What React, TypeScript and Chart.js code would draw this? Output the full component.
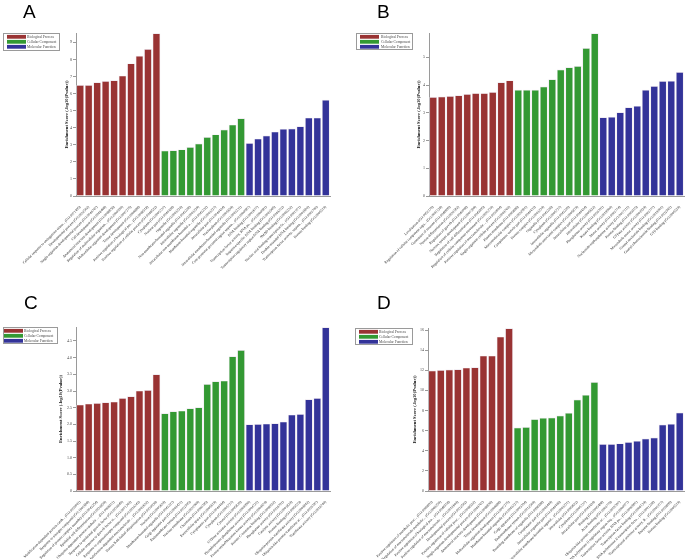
import React, { useEffect, useRef } from "react";
import { Chart, registerables } from "chart.js";

Chart.register(...registerables);

const CATEGORY_NAMES = ["Biological Process", "Cellular Component", "Molecular Function"];
const CATEGORY_COLORS = ["#993333", "#339933", "#333399"];
const Y_TITLE = "Enrichment Score (-log10(Pvalue))";

// ---------- Panel A ----------
const aBPTerms = [
  "Cellular response to endogenous stimu... (GO:0071495)",
  "Developmental process (GO:0032502)",
  "Single-organism developmental process (GO:0044767)",
  "Cell development (GO:0048468)",
  "Anatomical structure development (GO:0048856)",
  "Regulation of multicellular organism... (GO:2000026)",
  "Multicellular organism development (GO:0007275)",
  "Tissue development (GO:0009888)",
  "Positive regulation of biological pro... (GO:0048518)",
  "Positive regulation of cellular process (GO:0048522)",
];
const aBPScores = [6.5, 6.5, 6.66, 6.74, 6.78, 7.05, 7.77, 8.22, 8.61, 9.53];
const aCCTerms = [
  "Cytoplasm (GO:0005737)",
  "Nuclear part (GO:0044428)",
  "Organelle (GO:0043226)",
  "Non-membrane-bounded organelle (GO:0043228)",
  "Intracellular organelle (GO:0043229)",
  "Intracellular non-membrane-bounded o... (GO:0043232)",
  "Membrane-bounded organelle (GO:0043227)",
  "Intracellular part (GO:0044424)",
  "Nucleoplasm (GO:0005654)",
  "Intracellular membrane-bounded organelle (GO:0043231)",
];
const aCCScores = [2.66, 2.68, 2.73, 2.87, 3.07, 3.46, 3.61, 3.89, 4.18, 4.55];
const aMFTerms = [
  "Core promoter proximal region sequen... (GO:0000987)",
  "DNA binding (GO:0003677)",
  "Transcription factor activity, RNA po... (GO:0000981)",
  "Sequence-specific DNA binding (GO:0043565)",
  "Transcription regulatory region DNA binding (GO:0044212)",
  "SMAD binding (GO:0046332)",
  "Nucleic acid binding transcription fa... (GO:0001071)",
  "Double-stranded DNA binding (GO:0003690)",
  "Transcription factor activity, sequen... (GO:0003700)",
  "Protein binding (GO:0005515)",
];
const aMFScores = [3.1, 3.36, 3.54, 3.77, 3.93, 3.95, 4.08, 4.59, 4.59, 5.64];

// ---------- Panel B ----------
const bBPTerms = [
  "Localization (GO:0051179)",
  "Regulation of cellular component orga... (GO:0051128)",
  "Generation of neurons (GO:0048699)",
  "Neuron differentiation (GO:0030182)",
  "Regulation of growth (GO:0040008)",
  "Nervous system development (GO:0007399)",
  "Regulation of cell differentiation (GO:0045595)",
  "Regulation of cellular component movement (GO:0051270)",
  "Positive regulation of macromolecule ... (GO:0010604)",
  "Single-organism cellular process (GO:0044763)",
];
const bBPScores = [3.57, 3.59, 3.61, 3.63, 3.68, 3.71, 3.71, 3.75, 4.1, 4.17];
const bCCTerms = [
  "Plasma membrane (GO:0005886)",
  "Macromolecular complex (GO:0032991)",
  "Cytoplasmic vesicle part (GO:0044433)",
  "Protein complex (GO:0043234)",
  "Organelle (GO:0043226)",
  "Cytoplasm (GO:0005737)",
  "Intracellular organelle (GO:0043229)",
  "Microtubule associated complex (GO:0005875)",
  "Intracellular part (GO:0044424)",
  "Intracellular (GO:0005622)",
];
const bCCScores = [3.83, 3.83, 3.83, 3.95, 4.21, 4.56, 4.64, 4.69, 5.34, 5.87];
const bMFTerms = [
  "Phosphatase activity (GO:0016791)",
  "Kinase binding (GO:0019900)",
  "Motor activity (GO:0003774)",
  "Nucleoside-triphosphatase activity (GO:0017111)",
  "Protein binding (GO:0005515)",
  "GTPase activity (GO:0003924)",
  "Microtubule motor activity (GO:0003777)",
  "Guanyl nucleotide binding (GO:0019001)",
  "Guanyl ribonucleotide binding (GO:0032561)",
  "GTP binding (GO:0005525)",
];
const bMFScores = [2.84, 2.86, 3.02, 3.2, 3.25, 3.83, 3.97, 4.15, 4.16, 4.47];

// ---------- Panel C ----------
const cBPTerms = [
  "Modification-dependent protein catab... (GO:0019941)",
  "Response to nitrogen compound (GO:1901698)",
  "Regulation of protein complex assembly (GO:0043254)",
  "Epithelial cell differentiation (GO:0030855)",
  "Ubiquitin-dependent protein catabolic ... (GO:0006511)",
  "Response to epidermal growth factor (GO:0070849)",
  "Cellular response to growth factor st... (GO:0071363)",
  "Response to organonitrogen compound (GO:0010243)",
  "Modification-dependent macromolecule ... (GO:0043632)",
  "Protein K48-linked ubiquitination (GO:0070936)",
];
const cBPScores = [2.59, 2.62, 2.64, 2.66, 2.68, 2.79, 2.84, 3.01, 3.03, 3.5];
const cCCTerms = [
  "Nucleus (GO:0005634)",
  "Membrane-bounded organelle (GO:0043227)",
  "Golgi apparatus part (GO:0044431)",
  "Endomembrane system (GO:0012505)",
  "Nuclear membrane (GO:0031965)",
  "Chromatin (GO:0000785)",
  "Extracellular space (GO:0005615)",
  "Cytoplasmic part (GO:0044444)",
  "Cytoplasm (GO:0005737)",
  "Cytosol (GO:0005829)",
];
const cCCScores = [2.33, 2.39, 2.41, 2.48, 2.51, 3.21, 3.29, 3.31, 4.04, 4.23];
const cMFTerms = [
  "GTPase activator activity (GO:0005096)",
  "Phosphoprotein phosphatase activity (GO:0004721)",
  "Protein serine/threonine kinase activity (GO:0004674)",
  "Protein C-terminus binding (GO:0008022)",
  "Phosphatase activity (GO:0016791)",
  "Catalytic activity (GO:0003824)",
  "Protein binding (GO:0005515)",
  "Ubiquitin-protein transferase activity (GO:0004842)",
  "Ubiquitin-like protein transferase ac... (GO:0019787)",
  "Transferase activity (GO:0016740)",
];
const cMFScores = [2.0, 2.01, 2.02, 2.03, 2.08, 2.29, 2.31, 2.75, 2.79, 4.91];

// ---------- Panel D ----------
const dBPTerms = [
  "Positive regulation of metabolic proc... (GO:0009893)",
  "Regulation of macromolecule metabolic... (GO:0060255)",
  "Positive regulation of biological pro... (GO:0048518)",
  "Positive regulation of macromolecule ... (GO:0010604)",
  "Developmental process (GO:0032502)",
  "Positive regulation of cellular proc... (GO:0048522)",
  "Single-organism developmental process (GO:0044767)",
  "Anatomical structure development (GO:0048856)",
  "Tissue development (GO:0009888)",
  "Multicellular organism development (GO:0007275)",
];
const dBPScores = [11.97, 12.03, 12.07, 12.1, 12.26, 12.3, 13.45, 13.45, 15.34, 16.17];
const dCCTerms = [
  "Membrane-bounded organelle (GO:0043227)",
  "Golgi apparatus (GO:0005794)",
  "Endomembrane system (GO:0012505)",
  "Bounding membrane of organelle (GO:0098588)",
  "Cytoplasmic part (GO:0044444)",
  "Intracellular organelle part (GO:0044446)",
  "Intracellular membrane-bounded organel... (GO:0043231)",
  "Intracellular (GO:0005622)",
  "Cytoplasm (GO:0005737)",
  "Intracellular part (GO:0044424)",
];
const dCCScores = [6.31, 6.35, 7.14, 7.27, 7.31, 7.5, 7.77, 9.09, 9.55, 10.84];
const dMFTerms = [
  "Binding (GO:0005488)",
  "Actin binding (GO:0003779)",
  "Ubiquitin-like protein transferase ac... (GO:0019787)",
  "RNA polymerase II regulatory region seq... (GO:0000977)",
  "Transcription factor activity, RNA po... (GO:0000981)",
  "Transcription factor binding (GO:0008134)",
  "RNA polymerase II transcription facto... (GO:0001228)",
  "Transcriptional activator activity, R... (GO:0001077)",
  "Enzyme binding (GO:0019899)",
  "Protein binding (GO:0005515)",
];
const dMFScores = [4.66, 4.66, 4.73, 4.86, 4.99, 5.22, 5.32, 6.61, 6.68, 7.8];

const SERIF = "'Liberation Serif', 'DejaVu Serif', serif";

const goLegendPlugin = {
  id: "goLegend",
  afterDraw(chart: any, _args: any, opts: any) {
    if (!opts || opts.x === undefined) return;
    const ctx = chart.ctx;
    ctx.save();
    ctx.fillStyle = "#ffffff";
    ctx.fillRect(opts.x, opts.y, opts.w, opts.h);
    ctx.strokeStyle = "#9a9a9a";
    ctx.lineWidth = 1;
    ctx.strokeRect(opts.x + 0.5, opts.y + 0.5, opts.w - 1, opts.h - 1);
    ctx.font = `3.6px ${SERIF}`;
    ctx.textBaseline = "middle";
    ctx.textAlign = "left";
    chart.data.datasets.forEach((ds: any, i: number) => {
      const cy = opts.y + 3.8 + i * 5;
      ctx.fillStyle = ds.backgroundColor;
      ctx.fillRect(opts.swatchX, cy - 1.9, opts.swatchW, 3.8);
      ctx.fillStyle = "#444";
      ctx.fillText(ds.label, opts.textX, cy);
    });
    ctx.restore();
  },
};

type PanelProps = {
  letter: string;
  bp: string[]; bpV: number[];
  cc: string[]; ccV: number[];
  mf: string[]; mfV: number[];
  frame: { x: number; y: number; w: number; h: number };
  axis: { left: number; right: number; top: number; bottom: number; titleX: number };
  legend: { x: number; y: number; w: number; h: number; swatchX: number; swatchW: number; textX: number };
  yMax: number;
  yStep: number;
  letterPos: { x: number; y: number };
};

function GOPanel(p: PanelProps) {
  const ref = useRef<HTMLCanvasElement | null>(null);
  useEffect(() => {
    if (!ref.current) return;
    const labels = [...p.bp, ...p.cc, ...p.mf];
    const n1 = p.bp.length, n2 = p.cc.length, n3 = p.mf.length;
    const nulls = (k: number) => new Array(k).fill(null);
    const groups = [
      [...p.bpV, ...nulls(n2 + n3)],
      [...nulls(n1), ...p.ccV, ...nulls(n3)],
      [...nulls(n1 + n2), ...p.mfV],
    ];
    const datasets = groups.map((data, i) => ({
      label: CATEGORY_NAMES[i],
      data,
      backgroundColor: CATEGORY_COLORS[i],
      borderColor: "#e9e1ea",
      borderWidth: 0.7,
      barPercentage: 0.92,
      categoryPercentage: 1,
    }));
    const titleFont = 4.6;
    const padLeft = p.axis.titleX - (titleFont * 1.2) / 2;
    const chart = new Chart(ref.current, {
      type: "bar",
      data: { labels, datasets },
      options: {
        animation: false,
        responsive: false,
        maintainAspectRatio: false,
        devicePixelRatio: 1,
        layout: {
          padding: { left: padLeft, top: p.axis.top, right: p.frame.w - p.axis.right, bottom: 0 },
        },
        plugins: {
          legend: { display: false },
          tooltip: { enabled: false },
          goLegend: p.legend,
        } as any,
        scales: {
          x: {
            stacked: true,
            grid: { display: false },
            border: { display: true, color: "#9a9a9a", width: 1 },
            ticks: {
              autoSkip: false,
              minRotation: 45,
              maxRotation: 45,
              padding: 1,
              color: "#1a1a1a",
              font: { family: SERIF, size: 3.6 },
            },
            afterFit: (s: any) => {
              s.height = p.frame.h - p.axis.bottom;
            },
          },
          y: {
            stacked: true,
            min: 0,
            max: p.yMax,
            grid: { display: true, drawOnChartArea: false, drawTicks: true, tickLength: 3, color: "#9a9a9a" },
            border: { display: true, color: "#9a9a9a", width: 1 },
            ticks: {
              stepSize: p.yStep,
              includeBounds: false,
              padding: 1,
              color: "#444",
              font: { family: SERIF, size: 4 },
            } as any,
            title: {
              display: true,
              text: Y_TITLE,
              color: "#111",
              padding: 0,
              font: { family: SERIF, size: titleFont, weight: "bold" },
            },
            afterFit: (s: any) => {
              s.width = p.axis.left - padLeft;
            },
          },
        },
      },
      plugins: [goLegendPlugin],
    } as any);
    return () => chart.destroy();
  }, []);
  return (
    <div style={{ position: "absolute", left: p.frame.x, top: p.frame.y, width: p.frame.w, height: p.frame.h }}>
      <canvas ref={ref} width={p.frame.w} height={p.frame.h} style={{ display: "block", width: p.frame.w, height: p.frame.h }} />
      <div
        style={{
          position: "absolute",
          left: p.letterPos.x,
          top: p.letterPos.y,
          fontFamily: "'Liberation Sans', Arial, sans-serif",
          fontSize: 19,
          lineHeight: "19px",
          color: "#000",
        }}
      >
        {p.letter}
      </div>
    </div>
  );
}

export default function App() {
  return (
    <div style={{ position: "fixed", left: 0, top: 0, width: 685, height: 559, background: "#fff", overflow: "hidden" }}>
      <GOPanel
        letter="A"
        bp={aBPTerms} bpV={aBPScores} cc={aCCTerms} ccV={aCCScores} mf={aMFTerms} mfV={aMFScores}
        frame={{ x: 0, y: 0, w: 342, h: 280 }}
        axis={{ left: 76, right: 330, top: 33, bottom: 196, titleX: 67 }}
        legend={{ x: 3, y: 33, w: 57, h: 18, swatchX: 7, swatchW: 19, textX: 27 }}
        yMax={9.55} yStep={1}
        letterPos={{ x: 23, y: 2 }}
      />
      <GOPanel
        letter="B"
        bp={bBPTerms} bpV={bBPScores} cc={bCCTerms} ccV={bCCScores} mf={bMFTerms} mfV={bMFScores}
        frame={{ x: 342, y: 0, w: 343, h: 280 }}
        axis={{ left: 87, right: 342, top: 33, bottom: 196, titleX: 77 }}
        legend={{ x: 14, y: 33, w: 57, h: 17, swatchX: 18, swatchW: 19, textX: 39 }}
        yMax={5.88} yStep={1}
        letterPos={{ x: 35, y: 2 }}
      />
      <GOPanel
        letter="C"
        bp={cBPTerms} bpV={cBPScores} cc={cCCTerms} ccV={cCCScores} mf={cMFTerms} mfV={cMFScores}
        frame={{ x: 0, y: 280, w: 342, h: 279 }}
        axis={{ left: 76, right: 330, top: 47, bottom: 211, titleX: 61 }}
        legend={{ x: 3, y: 47, w: 55, h: 17, swatchX: 4, swatchW: 19, textX: 24 }}
        yMax={4.92} yStep={0.5}
        letterPos={{ x: 24, y: 13 }}
      />
      <GOPanel
        letter="D"
        bp={dBPTerms} bpV={dBPScores} cc={dCCTerms} ccV={dCCScores} mf={dMFTerms} mfV={dMFScores}
        frame={{ x: 342, y: 280, w: 343, h: 279 }}
        axis={{ left: 86, right: 342, top: 48, bottom: 211, titleX: 73 }}
        legend={{ x: 13, y: 48, w: 58, h: 17, swatchX: 17, swatchW: 19, textX: 37 }}
        yMax={16.2} yStep={2}
        letterPos={{ x: 35, y: 13 }}
      />
    </div>
  );
}
